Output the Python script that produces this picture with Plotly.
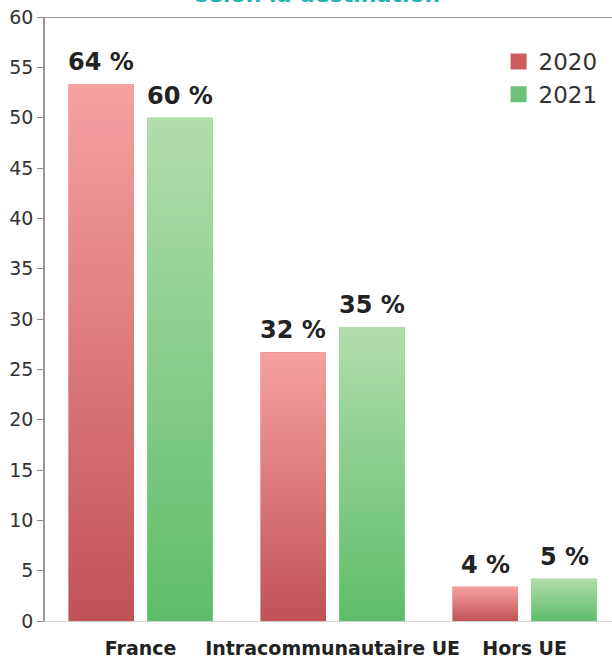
import plotly.graph_objects as go

categories = ["France", "Intracommunautaire UE", "Hors UE"]
years = ["2020", "2021"]
values_2020 = [53.3, 26.7, 3.4]
values_2021 = [50.0, 29.2, 4.2]
labels_2020 = ["64 %", "32 %", "4 %"]
labels_2021 = ["60 %", "35 %", "5 %"]
y_ticks = [0, 5, 10, 15, 20, 25, 30, 35, 40, 45, 50, 55, 60]

BAR_W = 0.34
OFFSETS = {"2020": -0.375, "2021": 0.035}
COLORS = {
    "2020": {"top": "#f7a1a1", "bottom": "#c05258", "legend": "#cd5c5c"},
    "2021": {"top": "#b2ddab", "bottom": "#5dbd6a", "legend": "#6cc276"},
}

series = {"2020": (values_2020, labels_2020), "2021": (values_2021, labels_2021)}

fig = go.Figure()
xs = list(range(len(categories)))

annotations = []
for yr in years:
    vals, labs = series[yr]
    fig.add_trace(go.Bar(
        x=xs, y=vals, width=BAR_W, offset=OFFSETS[yr],
        marker=dict(color=COLORS[yr]["bottom"], line=dict(width=0)),
        showlegend=False, hoverinfo="skip", name=yr,
    ))
    for i, v in zip(xs, vals):
        x0 = i + OFFSETS[yr]
        x1 = x0 + BAR_W
        fig.add_trace(go.Scatter(
            x=[x0, x1, x1, x0, x0], y=[0, 0, v, v, 0],
            mode="lines", line=dict(width=0), fill="toself",
            fillgradient=dict(type="vertical",
                              colorscale=[[0, COLORS[yr]["bottom"]], [1, COLORS[yr]["top"]]]),
            showlegend=False, hoverinfo="skip",
        ))
    for i, v, t in zip(xs, vals, labs):
        annotations.append(dict(
            x=i + OFFSETS[yr] + BAR_W / 2, y=v, xref="x", yref="y",
            text=t, showarrow=False, yanchor="bottom", xanchor="center", yshift=6,
            font=dict(family="DejaVu Sans", size=24, color="#222222", weight="bold"),
        ))

# legend entries
for yr in years:
    fig.add_trace(go.Scatter(
        x=[None], y=[None], mode="markers", name=yr,
        marker=dict(symbol="square", size=16, color=COLORS[yr]["legend"]),
    ))

annotations.append(dict(
    x=0.48, y=1, xref="paper", yref="paper", yanchor="bottom", xanchor="center",
    yshift=8, text="selon la destination", showarrow=False,
    font=dict(family="DejaVu Sans", size=22, color="#1db3ae", weight="bold"),
))

fig.update_layout(
    width=612, height=658,
    margin=dict(l=45, r=0, t=17, b=37),
    plot_bgcolor="white", paper_bgcolor="white",
    annotations=annotations,
    shapes=[dict(type="line", xref="paper", x0=0, x1=1, yref="y", y0=60, y1=60,
                 line=dict(color="#777777", width=1.5))],
    legend=dict(x=0.80, y=0.962, xanchor="left", yanchor="top",
                font=dict(family="DejaVu Sans", size=23, color="#333333"),
                bgcolor="rgba(0,0,0,0)", tracegroupgap=0),
)
fig.update_yaxes(range=[0, 60], tickvals=y_ticks, showgrid=False, zeroline=False,
                 showline=True, linecolor="#999999", linewidth=1.5,
                 ticks="outside", ticklen=6, tickcolor="#888888", automargin=False,
                 tickfont=dict(family="DejaVu Sans", size=19, color="#333333"))
fig.update_xaxes(range=[-0.498, 2.455], tickvals=xs, ticktext=categories,
                 showgrid=False, zeroline=False, showline=True, linecolor="#d0d0d0",
                 linewidth=1, ticks="", ticklabelstandoff=10, automargin=False,
                 tickfont=dict(family="DejaVu Sans", size=19, color="#222222", weight="bold"))

fig.write_html("out.html", config={"displayModeBar": False},
               post_script="document.body.style.margin='0';")
